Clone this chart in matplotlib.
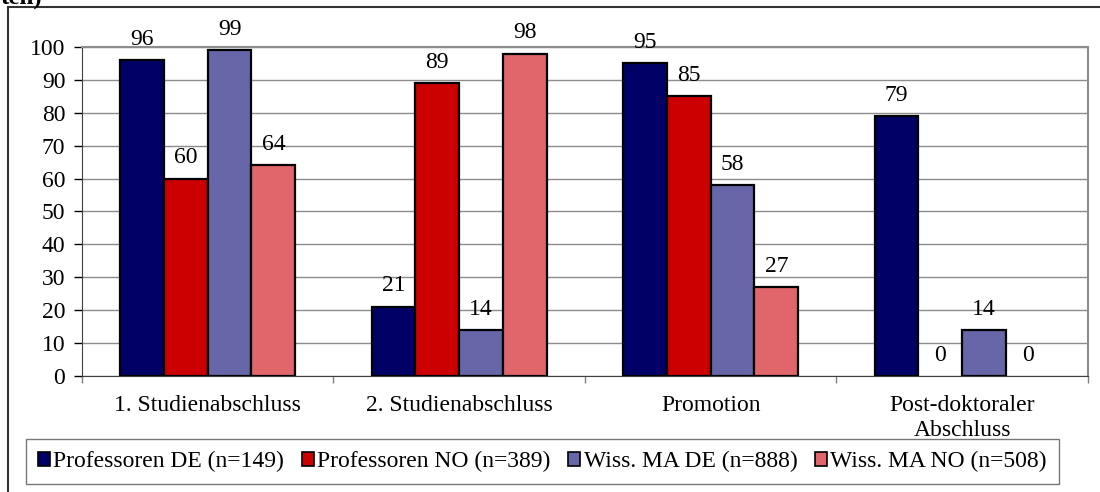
import matplotlib
matplotlib.use("Agg")
import matplotlib.pyplot as plt
from matplotlib.lines import Line2D
from matplotlib.patches import Patch
import numpy as np

categories = ["1. Studienabschluss", "2. Studienabschluss", "Promotion",
              "Post-doktoraler\nAbschluss"]
series_names = ["Professoren DE (n=149)", "Professoren NO (n=389)",
                "Wiss. MA DE (n=888)", "Wiss. MA NO (n=508)"]
prof_de = [96, 21, 95, 79]
prof_no = [60, 89, 85, 0]
wiss_de = [99, 14, 58, 14]
wiss_no = [64, 98, 27, 0]
y_ticks = list(range(0, 101, 10))

series = [prof_de, prof_no, wiss_de, wiss_no]
colors = ["#000066", "#CC0000", "#6666A8", "#E0666B"]

plt.rcParams["font.family"] = ["Liberation Serif", "DejaVu Serif"]
FS = 17

fig = plt.figure(figsize=(11, 4.92), dpi=100)
ax = fig.add_axes([0.0745, 0.2358, 0.9145, 0.6687])

n = len(series)
bw = 0.174
x = np.arange(len(categories))
for i, (vals, col) in enumerate(zip(series, colors)):
    pos = x + (i - (n - 1) / 2) * bw
    edges = ["black" if v > 0 else "none" for v in vals]
    ax.bar(pos, vals, width=bw, color=col, edgecolor=edges,
           linewidth=1.6, zorder=3)
    for p, v in zip(pos, vals):
        ax.annotate(str(v), (p, v), xytext=(0, 7.5), textcoords="offset points",
                    ha="center", va="bottom", fontsize=FS)

ax.set_xlim(-0.5, len(categories) - 0.5)
ax.set_ylim(0, 100)
ax.set_yticks(y_ticks)
ax.tick_params(axis="y", labelsize=FS, length=6, width=1, direction="out", pad=6)
ax.yaxis.grid(True, color="#8c8c8c", linewidth=1, zorder=0)
ax.set_axisbelow(True)

# category labels centred, tick marks at the boundaries
ax.set_xticks(x)
ax.set_xticklabels(categories, fontsize=FS, linespacing=1.25)
ax.tick_params(axis="x", length=0, pad=14)
ax.set_xticks(np.arange(0.5, len(categories) - 1, 1.0).tolist()
              + [-0.5, len(categories) - 0.5], minor=True)
ax.tick_params(axis="x", which="minor", length=5, width=1, color="#808080")

for side in ["top", "right"]:
    ax.spines[side].set_color("#8c8c8c")
    ax.spines[side].set_linewidth(1.5)
ax.spines["left"].set_color("#404040")
ax.spines["bottom"].set_color("#404040")

handles = [Patch(facecolor=c, edgecolor="black", linewidth=1.2) for c in colors]
leg = fig.legend(handles, series_names, loc="lower center",
                 bbox_to_anchor=(0.493, 0.016), ncol=4, fontsize=FS,
                 frameon=True, fancybox=False,
                 handlelength=0.5, handleheight=0.5, handletextpad=0.15,
                 columnspacing=0.75, borderpad=0.5, borderaxespad=0)
leg.get_frame().set_edgecolor("#555555")
leg.get_frame().set_linewidth(1)

# outer chart frame
fig.add_artist(Line2D([8 / 1100, 8 / 1100], [0, 1 - 7 / 492], color="#333333",
                      linewidth=1.5, transform=fig.transFigure))
fig.add_artist(Line2D([8 / 1100, 1], [1 - 7 / 492, 1 - 7 / 492], color="#333333",
                      linewidth=1.5, transform=fig.transFigure))

fig.text(0.001, 1 - 5 / 492, "ten)", fontsize=18, fontweight="bold",
         ha="left", va="baseline")

fig.savefig("out.png", dpi=100)
